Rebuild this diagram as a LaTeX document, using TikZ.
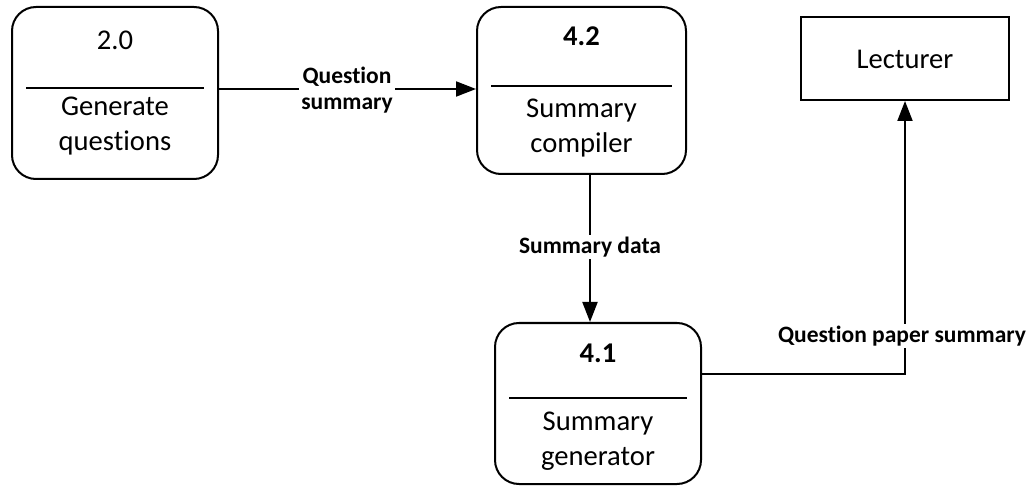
\documentclass[tikz,border=0pt]{standalone}
\usepackage{fontspec}
\setmainfont{Carlito}[RawFeature={-liga;-calt;-clig;-dlig}]
\usetikzlibrary{arrows.meta}
\tikzset{
  procbox/.style={draw, line width=2pt, rounded corners=24pt, inner sep=0pt},
  entbox/.style={draw, line width=2pt, inner sep=0pt},
  boxtext/.style={font=\fontsize{28.6}{35}\selectfont, align=center, inner sep=0pt},
  boxnum/.style={boxtext, font=\bfseries\fontsize{28.6}{35}\selectfont},
  flowlabel/.style={font=\bfseries\fontsize{23.5}{26}\selectfont, align=center, fill=white, inner sep=2pt},
  sepline/.style={line width=2pt},
  flow/.style={line width=2pt, -{Triangle[length=20pt,width=15pt]}},
}
\begin{document}
\begin{tikzpicture}[x=1pt,y=1pt]
\useasboundingbox (0,0) rectangle (1036,-486);
% Process 2.0
\node[procbox, minimum width=206pt, minimum height=172pt] (n20) at (115,-93) {};
\node[boxtext] (n20num) at (115,-40) {2.0};
\draw[sepline] (26,-88) coordinate (n20la) -- (204,-88) coordinate (n20lb);
\node[boxtext] (n20txt) at (115,-126) {Generate\\questions};
% Process 4.2
\node[procbox, minimum width=209pt, minimum height=167pt] (n42) at (581.5,-90.5) {};
\node[boxnum] (n42num) at (581.5,-36) {4.2};
\draw[sepline] (491,-86) coordinate (n42la) -- (672,-86) coordinate (n42lb);
\node[boxtext] (n42txt) at (581.5,-128) {Summary\\compiler};
% Process 4.1
\node[procbox, minimum width=206pt, minimum height=161pt] (n41) at (598,-403.5) {};
\node[boxnum] (n41num) at (598,-353) {4.1};
\draw[sepline] (509,-398) coordinate (n41la) -- (687,-398) coordinate (n41lb);
\node[boxtext] (n41txt) at (598,-441) {Summary\\generator};
% Lecturer
\node[entbox, minimum width=208pt, minimum height=83pt] (lec) at (905,-58.5) {};
\node[boxtext] (lectxt) at (905,-59) {Lecturer};
% Flows
\coordinate (c1) at (0,-89);
\draw[flow] (n20.east |- c1) -- (n42.west |- c1);
\node[flowlabel] (l1) at (347,-90) {Question\\summary};
\coordinate (c2) at (590,0);
\draw[flow] (n42.south -| c2) -- (n41.north -| c2);
\node[flowlabel] (l2) at (590,-247) {Summary data};
\coordinate (c3) at (905,-374);
\draw[flow] (n41.east |- c3) -- (c3) -- (lec.south);
\node[flowlabel] (l3) at (902,-336) {Question paper summary};
\end{tikzpicture}
\end{document}
